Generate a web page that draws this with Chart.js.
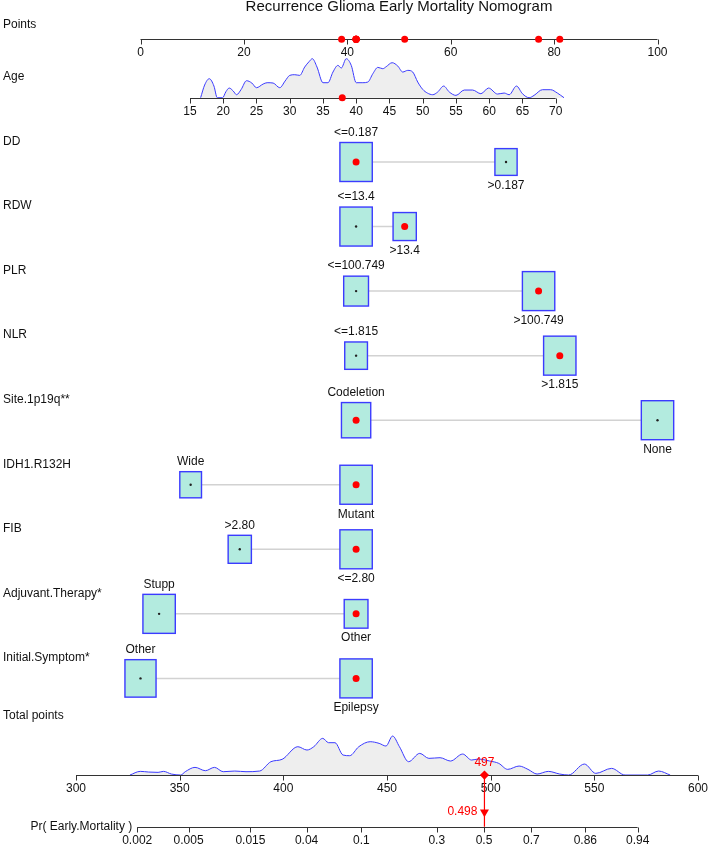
<!DOCTYPE html>
<html>
<head>
<meta charset="utf-8">
<title>Recurrence Glioma Early Mortality Nomogram</title>
<script src="https://cdn.jsdelivr.net/npm/chart.js@4.4.0/dist/chart.umd.min.js"></script>
<style>
  html, body { margin: 0; padding: 0; background: #fff; }
  #wrap { width: 708px; height: 845px; }
</style>
</head>
<body>
<div id="wrap"><canvas id="nomo" width="708" height="845"></canvas></div>
<script>
// ---------- Data ----------
const chartTitle = 'Recurrence Glioma Early Mortality Nomogram';

const pointTicks = [0, 20, 40, 60, 80, 100];

const ageTicks = [15, 20, 25, 30, 35, 40, 45, 50, 55, 60, 65, 70];
const ageValue = 37.9;     // patient's age
const agePoints = 38.9;    // points given to that age

// age distribution (relative density)
const ageGrid = [16.6, 17.2, 17.9, 18.6, 19.1, 19.9, 20.4, 20.9, 21.5, 22.0, 22.7, 23.5, 24.3, 25.0, 26.0,
  26.6, 27.5, 28.5, 29.3, 30.0, 30.75, 31.5, 32.25, 32.9, 33.4, 34.1, 35.0, 35.75, 36.5, 37.25,
  37.75, 38.5, 39.25, 40.0, 41.0, 41.75, 42.5, 43.25, 44.0, 44.5, 45.4, 46.25, 47.0, 47.75, 48.5,
  49.25, 50.0, 50.7, 51.5, 52.25, 53.15, 54.0, 55.0, 56.25, 57.5, 58.75, 59.9, 61.25, 62.25, 63.0,
  64.1, 65.0, 66.0, 66.75, 68.0, 69.25, 70.25, 71.25];
const ageDensity = [0, 38, 57, 35, 0, 0, 18, 29, 20, 9, 25, 51, 44, 30, 41,
  45, 44, 30, 50, 67, 69, 67, 92, 108, 117, 92, 45, 45, 77, 97,
  89, 117, 97, 45, 45, 47, 72, 91, 87, 93, 105, 95, 77, 82, 77,
  47, 25, 14, 9, 17, 35, 17, 7, 23, 23, 12, 29, 11, 14, 9,
  35, 12, 0, 7, 24, 24, 14, 0];

const varNames = ['DD', 'RDW', 'PLR', 'NLR', 'Site.1p19q**', 'IDH1.R132H', 'FIB',
  'Adjuvant.Therapy*', 'Initial.Symptom*'];
// first level is labelled above its box, second below
const varLevels = [
  ['<=0.187', '>0.187'],
  ['<=13.4', '>13.4'],
  ['<=100.749', '>100.749'],
  ['<=1.815', '>1.815'],
  ['Codeletion', 'None'],
  ['Wide', 'Mutant'],
  ['>2.80', '<=2.80'],
  ['Stupp', 'Other'],
  ['Other', 'Epilepsy']
];
const levelPoints = [
  [41.7, 70.7],
  [41.7, 51.1],
  [41.7, 77.0],
  [41.7, 81.1],
  [41.7, 100],
  [9.7, 41.7],
  [19.2, 41.7],
  [3.6, 41.7],
  [0, 41.7]
];
// share of patients in each level (sets box size)
const levelFreq = [
  [0.68, 0.32],
  [0.66, 0.34],
  [0.37, 0.63],
  [0.33, 0.67],
  [0.45, 0.55],
  [0.31, 0.69],
  [0.34, 0.66],
  [0.65, 0.35],
  [0.48, 0.52]
];
const selectedLevel = [0, 1, 1, 1, 0, 1, 1, 1, 1];

const totalTicks = [300, 350, 400, 450, 500, 550, 600];
const totalScore = 497;
const totalGrid = [326, 331, 335, 339.6, 342.2, 346, 350.5, 352.7, 357.4, 362.4, 366.8, 371, 376.6, 382, 388.6,
  394, 399.4, 407, 411.4, 414.7, 419, 421.8, 424.9, 428.8, 432, 436.4, 441.9, 446.2, 449.5, 452.7,
  456, 460.4, 465.8, 470.2, 475.6, 480.6, 486.5, 490.8, 494, 499.5, 503.9, 508.2, 513.7, 518, 522.4,
  527.8, 533.3, 537.6, 545.2, 550.7, 558.3, 564.8, 575.7, 581, 586.6];
const totalDensity = [0, 11, 9, 8, 11, 3, 0, 10, 23, 13, 23, 10, 12, 10, 12,
  40, 47, 85, 75, 85, 110, 97, 97, 60, 58, 85, 100, 95, 87, 117,
  85, 40, 65, 50, 52, 42, 63, 45, 48, 42, 35, 17, 27, 17, 3,
  11, 3, 0, 33, 5, 20, 0, 0, 12, 0];

const probLabel = 'Pr( Early.Mortality )';
const probTicks = ['0.002', '0.005', '0.015', '0.04', '0.1', '0.3', '0.5', '0.7', '0.86', '0.94'];
const predictedProb = '0.498';
// logistic link: logit(p) = lpSlope * (total - lpCenter)
const lpSlope = 0.03714;
const lpCenter = 496.8;

// ---------- Layout ----------
const W = 708, H = 845;
const FONT = '"Liberation Sans", Arial, Helvetica, sans-serif';
const TEXT = '#111';
const AXIS = '#333';
const RED = '#ff0000';
const BOX_FILL = '#b3ebdf';
const BOX_LINE = '#3b3bff';
const BOX_MAX_H = 39;
const BOX_ASPECT = 0.83;
const DENS_H = 39;

const ROW0 = 162, ROW_STEP = 64.55;   // pixel of first variable row, row spacing
const POINTS_ROW = -1.9, AGE_ROW = -0.996, TOTAL_ROW = 9.497, PROB_ROW = 10.3, TRI_ROW = 10.07;
const rowPx = r => ROW0 + r * ROW_STEP;

// horizontal scale limits so that v0 lands at pixel p0 and v1 at p1
function spanH(v0, p0, v1, p1) {
  const k = (v1 - v0) / (p1 - p0);
  return { min: v0 - p0 * k, max: v0 + (W - p0) * k };
}
// vertical (values growing upward)
function spanV(v0, p0, v1, p1) {
  const k = (v1 - v0) / (p0 - p1);
  return { min: v0 - (H - p0) * k, max: v0 + p0 * k };
}

const xPts = spanH(0, 140.5, 100, 657.5);
const xAge = spanH(15, 190, 70, 555.7);
const xTot = spanH(300, 76, 600, 698);
const yAgeD = spanV(0, rowPx(AGE_ROW), 1, rowPx(AGE_ROW) - DENS_H);
const yTotD = spanV(0, rowPx(TOTAL_ROW), 1, rowPx(TOTAL_ROW) - DENS_H);

const probToTotal = p => lpCenter + Math.log(p / (1 - p)) / lpSlope;

function densityData(grid, dens) {
  const top = Math.max(...dens);
  return grid.map((g, i) => ({ x: g, y: dens[i] / top }));
}

// ---------- Marks ----------
const rowDots = [];
const centerDots = [];
varNames.forEach((n, i) => {
  levelPoints[i].forEach(p => centerDots.push({ x: p, y: i }));
  rowDots.push({ x: levelPoints[i][selectedLevel[i]], y: i });
});
const scorePoints = [agePoints].concat(varNames.map((n, i) => levelPoints[i][selectedLevel[i]]));
const axisDots = scorePoints.map(p => ({ x: p, y: POINTS_ROW }));

// ---------- Drawing helpers ----------
function drawAxis(ctx, scale, yPx, from, to, ticks, labels) {
  const yy = Math.round(yPx) + 0.5;
  ctx.strokeStyle = AXIS;
  ctx.lineWidth = 1;
  ctx.beginPath();
  ctx.moveTo(scale.getPixelForValue(from), yy);
  ctx.lineTo(scale.getPixelForValue(to), yy);
  ticks.forEach(t => {
    const px = Math.round(scale.getPixelForValue(t)) + 0.5;
    ctx.moveTo(px, yy);
    ctx.lineTo(px, yy + 5);
  });
  ctx.stroke();
  ctx.fillStyle = TEXT;
  ctx.font = '12px ' + FONT;
  ctx.textAlign = 'center';
  ctx.textBaseline = 'middle';
  ticks.forEach((t, k) => ctx.fillText(labels[k], scale.getPixelForValue(t), yy + 13));
}

function leftLabel(ctx, text, yPx) {
  ctx.fillStyle = TEXT;
  ctx.font = '12px ' + FONT;
  ctx.textAlign = 'left';
  ctx.textBaseline = 'middle';
  ctx.fillText(text, 3, yPx);
}

const nomogramLayer = {
  id: 'nomogramLayer',
  beforeDatasetsDraw(chart) {
    const { ctx } = chart;
    const x = chart.scales.x, y = chart.scales.y;
    ctx.save();

    // title
    ctx.fillStyle = TEXT;
    ctx.font = '15px ' + FONT;
    ctx.textAlign = 'center';
    ctx.textBaseline = 'middle';
    ctx.fillText(chartTitle, (x.getPixelForValue(0) + x.getPixelForValue(100)) / 2, 7);

    leftLabel(ctx, 'Points', y.getPixelForValue(POINTS_ROW) - 15);
    leftLabel(ctx, 'Age', y.getPixelForValue(AGE_ROW) - 21);
    leftLabel(ctx, 'Total points', y.getPixelForValue(TOTAL_ROW) - 59);

    varNames.forEach((name, i) => {
      const yp = y.getPixelForValue(i);
      const pts = levelPoints[i];
      leftLabel(ctx, name, yp - 20.5);

      // connector
      ctx.strokeStyle = '#d2d2d2';
      ctx.lineWidth = 1.5;
      ctx.beginPath();
      ctx.moveTo(x.getPixelForValue(Math.min(...pts)), yp);
      ctx.lineTo(x.getPixelForValue(Math.max(...pts)), yp);
      ctx.stroke();

      // boxes
      const fmax = Math.max(...levelFreq[i]);
      pts.forEach((p, j) => {
        const h = BOX_MAX_H * Math.sqrt(levelFreq[i][j] / fmax);
        const w = h * BOX_ASPECT;
        const cx = x.getPixelForValue(p);
        ctx.fillStyle = BOX_FILL;
        ctx.fillRect(cx - w / 2, yp - h / 2, w, h);
        ctx.strokeStyle = BOX_LINE;
        ctx.lineWidth = 1.4;
        ctx.strokeRect(cx - w / 2, yp - h / 2, w, h);

        ctx.fillStyle = TEXT;
        ctx.font = '12px ' + FONT;
        ctx.textAlign = 'center';
        ctx.textBaseline = 'middle';
        const ly = j === 0 ? yp - h / 2 - 10 : yp + h / 2 + 10;
        ctx.fillText(varLevels[i][j], cx, ly);
      });
    });

    ctx.fillStyle = TEXT;
    ctx.font = '12px ' + FONT;
    ctx.textAlign = 'right';
    ctx.textBaseline = 'middle';
    const xt = chart.scales.xTot;
    ctx.fillText(probLabel, xt.getPixelForValue(probToTotal(+probTicks[0])) - 5, y.getPixelForValue(PROB_ROW));
    ctx.restore();
  },
  afterDatasetDraw(chart, args) {
    if (chart.data.datasets[args.index].label !== 'totalDensity') return;
    const { ctx } = chart;
    const y = chart.scales.y;
    ctx.save();
    drawAxis(ctx, chart.scales.x, y.getPixelForValue(POINTS_ROW), 0, 100, pointTicks, pointTicks.map(String));
    drawAxis(ctx, chart.scales.xAge, y.getPixelForValue(AGE_ROW), ageTicks[0], ageTicks[ageTicks.length - 1],
      ageTicks, ageTicks.map(String));
    drawAxis(ctx, chart.scales.xTot, y.getPixelForValue(TOTAL_ROW), totalTicks[0], totalTicks[totalTicks.length - 1],
      totalTicks, totalTicks.map(String));
    const probPos = probTicks.map(p => probToTotal(+p));
    drawAxis(ctx, chart.scales.xTot, y.getPixelForValue(PROB_ROW), probPos[0], probPos[probPos.length - 1],
      probPos, probTicks);
    ctx.restore();
  },
  afterDatasetsDraw(chart) {
    const { ctx } = chart;
    const xt = chart.scales.xTot, y = chart.scales.y;
    ctx.save();
    ctx.fillStyle = RED;
    ctx.font = '12px ' + FONT;
    ctx.textBaseline = 'middle';
    ctx.textAlign = 'center';
    ctx.fillText(String(totalScore), xt.getPixelForValue(totalScore), y.getPixelForValue(TOTAL_ROW) - 12.5);
    ctx.textAlign = 'right';
    ctx.fillText(predictedProb, xt.getPixelForValue(totalScore) - 7, y.getPixelForValue(TRI_ROW));
    ctx.restore();
  }
};

// ---------- Chart ----------
const ctx = document.getElementById('nomo').getContext('2d');
new Chart(ctx, {
  type: 'scatter',
  data: {
    datasets: [
      {
        label: 'ageDensity', order: 11, xAxisID: 'xAge', yAxisID: 'yAgeD',
        data: densityData(ageGrid, ageDensity), showLine: true, fill: 'origin',
        borderColor: '#3a3aff', borderWidth: 1, backgroundColor: '#eeeeee',
        pointRadius: 0, cubicInterpolationMode: 'monotone'
      },
      {
        label: 'totalDensity', order: 10, xAxisID: 'xTot', yAxisID: 'yTotD',
        data: densityData(totalGrid, totalDensity), showLine: true, fill: 'origin',
        borderColor: '#3a3aff', borderWidth: 1, backgroundColor: '#eeeeee',
        pointRadius: 0, cubicInterpolationMode: 'monotone'
      },
      {
        label: 'centers', order: 5, xAxisID: 'x', yAxisID: 'y',
        data: centerDots, pointRadius: 1.2, backgroundColor: '#222', borderWidth: 0
      },
      {
        label: 'probLine', order: 4, xAxisID: 'xTot', yAxisID: 'y',
        data: [{ x: totalScore, y: TOTAL_ROW }, { x: totalScore, y: PROB_ROW }],
        showLine: true, borderColor: RED, borderWidth: 1.2, pointRadius: 0
      },
      {
        label: 'selected', order: 2, xAxisID: 'x', yAxisID: 'y',
        data: rowDots.concat(axisDots), pointRadius: 3.5, backgroundColor: RED, borderWidth: 0
      },
      {
        label: 'ageSelected', order: 2, xAxisID: 'xAge', yAxisID: 'y',
        data: [{ x: ageValue, y: AGE_ROW }], pointRadius: 3.5, backgroundColor: RED, borderWidth: 0
      },
      {
        label: 'totalMark', order: 1, xAxisID: 'xTot', yAxisID: 'y',
        data: [{ x: totalScore, y: TOTAL_ROW }], pointStyle: 'rectRot', pointRadius: 4.6,
        backgroundColor: RED, borderWidth: 0
      },
      {
        label: 'probMark', order: 1, xAxisID: 'xTot', yAxisID: 'y',
        data: [{ x: totalScore, y: TRI_ROW }], pointStyle: 'triangle', rotation: 180, pointRadius: 5.2,
        backgroundColor: RED, borderWidth: 0
      }
    ]
  },
  options: {
    responsive: false,
    animation: false,
    events: [],
    layout: { padding: 0, autoPadding: false },
    plugins: { legend: { display: false }, tooltip: { enabled: false }, title: { display: false } },
    scales: {
      x: { type: 'linear', display: false, min: xPts.min, max: xPts.max },
      xAge: { type: 'linear', axis: 'x', display: false, min: xAge.min, max: xAge.max },
      xTot: { type: 'linear', axis: 'x', display: false, min: xTot.min, max: xTot.max },
      y: { type: 'linear', display: false, reverse: true, min: -ROW0 / ROW_STEP, max: (H - ROW0) / ROW_STEP },
      yAgeD: { type: 'linear', axis: 'y', display: false, min: yAgeD.min, max: yAgeD.max },
      yTotD: { type: 'linear', axis: 'y', display: false, min: yTotD.min, max: yTotD.max }
    }
  },
  plugins: [nomogramLayer]
});
</script>
</body>
</html>
